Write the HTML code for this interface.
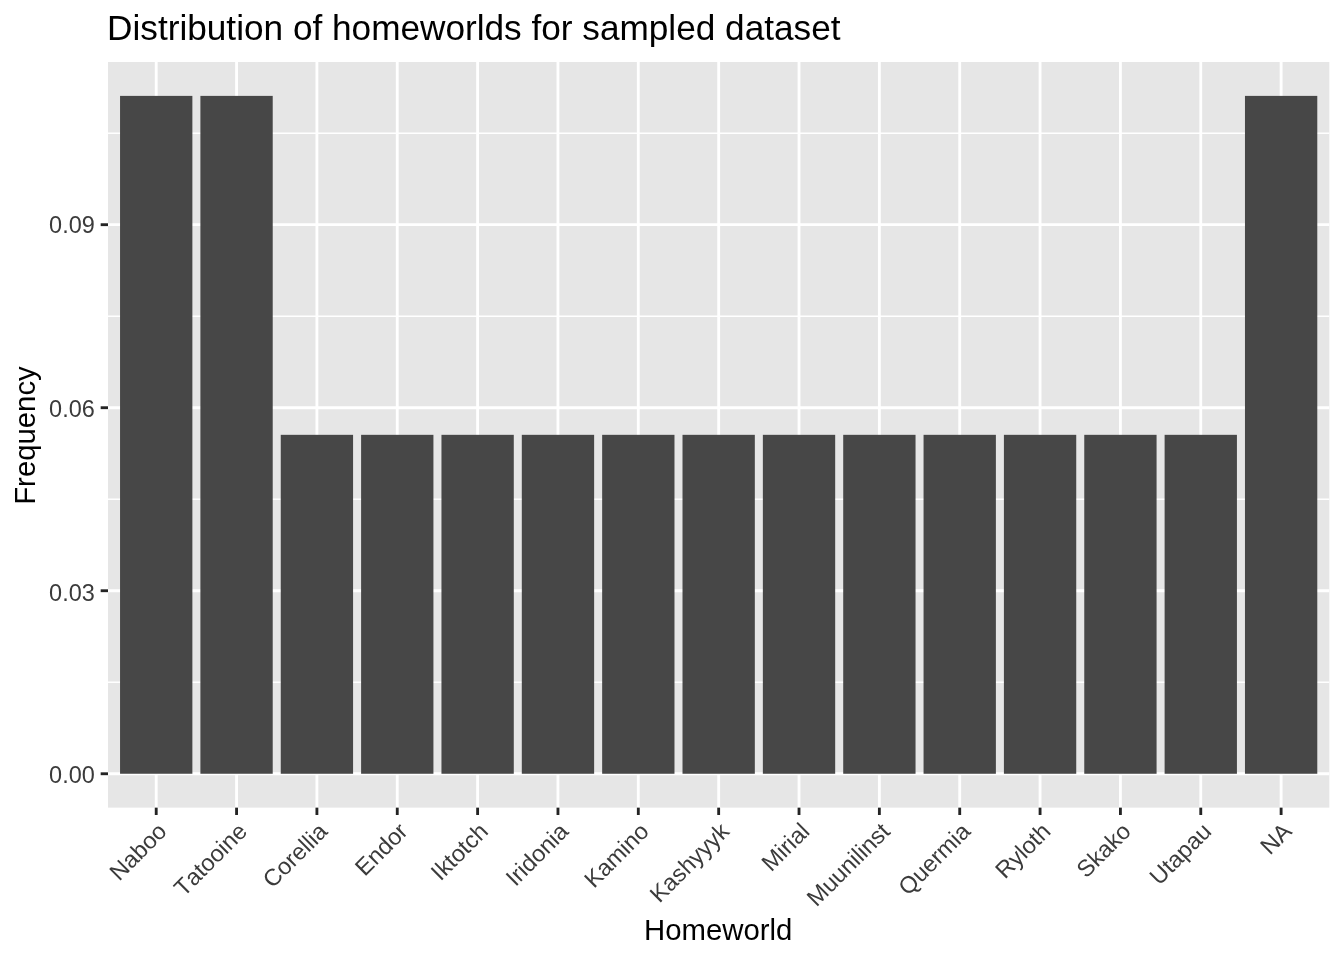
<!DOCTYPE html>
<html lang="en"><head><meta charset="utf-8"><title>Distribution of homeworlds for sampled dataset</title>
<style>html,body{margin:0;padding:0;background:#fff;overflow:hidden}body{width:1344px;height:960px}</style></head>
<body>
<svg width="1344" height="960" viewBox="0 0 1344 960" style="display:block;font-kerning:none;font-family:'Liberation Sans',Arial,Helvetica,sans-serif">
<rect x="0" y="0" width="1344" height="960" fill="#fff"/>
<rect x="108.00" y="62.00" width="1221.33" height="745.65" fill="#E6E6E6"/>
<g stroke="#fff" stroke-width="1.42" fill="none">
<line x1="108.00" x2="1329.33" y1="682.25" y2="682.25"/>
<line x1="108.00" x2="1329.33" y1="499.22" y2="499.22"/>
<line x1="108.00" x2="1329.33" y1="316.20" y2="316.20"/>
<line x1="108.00" x2="1329.33" y1="133.18" y2="133.18"/>
</g>
<g stroke="#fff" stroke-width="2.85" fill="none">
<line x1="108.00" x2="1329.33" y1="773.76" y2="773.76"/>
<line x1="108.00" x2="1329.33" y1="590.73" y2="590.73"/>
<line x1="108.00" x2="1329.33" y1="407.71" y2="407.71"/>
<line x1="108.00" x2="1329.33" y1="224.69" y2="224.69"/>
<line x1="156.21" x2="156.21" y1="62.00" y2="807.65"/>
<line x1="236.56" x2="236.56" y1="62.00" y2="807.65"/>
<line x1="316.91" x2="316.91" y1="62.00" y2="807.65"/>
<line x1="397.26" x2="397.26" y1="62.00" y2="807.65"/>
<line x1="477.61" x2="477.61" y1="62.00" y2="807.65"/>
<line x1="557.96" x2="557.96" y1="62.00" y2="807.65"/>
<line x1="638.31" x2="638.31" y1="62.00" y2="807.65"/>
<line x1="718.66" x2="718.66" y1="62.00" y2="807.65"/>
<line x1="799.02" x2="799.02" y1="62.00" y2="807.65"/>
<line x1="879.37" x2="879.37" y1="62.00" y2="807.65"/>
<line x1="959.72" x2="959.72" y1="62.00" y2="807.65"/>
<line x1="1040.07" x2="1040.07" y1="62.00" y2="807.65"/>
<line x1="1120.42" x2="1120.42" y1="62.00" y2="807.65"/>
<line x1="1200.77" x2="1200.77" y1="62.00" y2="807.65"/>
<line x1="1281.12" x2="1281.12" y1="62.00" y2="807.65"/>
</g>
<g fill="#474747">
<rect x="120.05" y="95.89" width="72.32" height="677.86"/>
<rect x="200.40" y="95.89" width="72.32" height="677.86"/>
<rect x="280.75" y="434.83" width="72.32" height="338.93"/>
<rect x="361.10" y="434.83" width="72.32" height="338.93"/>
<rect x="441.46" y="434.83" width="72.32" height="338.93"/>
<rect x="521.81" y="434.83" width="72.32" height="338.93"/>
<rect x="602.16" y="434.83" width="72.32" height="338.93"/>
<rect x="682.51" y="434.83" width="72.32" height="338.93"/>
<rect x="762.86" y="434.83" width="72.32" height="338.93"/>
<rect x="843.21" y="434.83" width="72.32" height="338.93"/>
<rect x="923.56" y="434.83" width="72.32" height="338.93"/>
<rect x="1003.91" y="434.83" width="72.32" height="338.93"/>
<rect x="1084.26" y="434.83" width="72.32" height="338.93"/>
<rect x="1164.61" y="434.83" width="72.32" height="338.93"/>
<rect x="1244.96" y="95.89" width="72.32" height="677.86"/>
</g>
<g stroke="#242424" stroke-width="2.85" fill="none">
<line x1="100.67" x2="108.00" y1="773.76" y2="773.76"/>
<line x1="100.67" x2="108.00" y1="590.73" y2="590.73"/>
<line x1="100.67" x2="108.00" y1="407.71" y2="407.71"/>
<line x1="100.67" x2="108.00" y1="224.69" y2="224.69"/>
<line x1="156.21" x2="156.21" y1="807.65" y2="814.98"/>
<line x1="236.56" x2="236.56" y1="807.65" y2="814.98"/>
<line x1="316.91" x2="316.91" y1="807.65" y2="814.98"/>
<line x1="397.26" x2="397.26" y1="807.65" y2="814.98"/>
<line x1="477.61" x2="477.61" y1="807.65" y2="814.98"/>
<line x1="557.96" x2="557.96" y1="807.65" y2="814.98"/>
<line x1="638.31" x2="638.31" y1="807.65" y2="814.98"/>
<line x1="718.66" x2="718.66" y1="807.65" y2="814.98"/>
<line x1="799.02" x2="799.02" y1="807.65" y2="814.98"/>
<line x1="879.37" x2="879.37" y1="807.65" y2="814.98"/>
<line x1="959.72" x2="959.72" y1="807.65" y2="814.98"/>
<line x1="1040.07" x2="1040.07" y1="807.65" y2="814.98"/>
<line x1="1120.42" x2="1120.42" y1="807.65" y2="814.98"/>
<line x1="1200.77" x2="1200.77" y1="807.65" y2="814.98"/>
<line x1="1281.12" x2="1281.12" y1="807.65" y2="814.98"/>
</g>
<g fill="#3B3B3B" font-size="23.47px" text-anchor="end">
<text x="94.8" y="782.85">0.00</text>
<text x="94.8" y="600.60">0.03</text>
<text x="94.8" y="417.45">0.06</text>
<text x="94.8" y="233.35">0.09</text>
<text transform="translate(168.11,832.80) rotate(-45)" x="0" y="0">Naboo</text>
<text transform="translate(248.46,832.80) rotate(-45)" x="0" y="0">Tatooine</text>
<text transform="translate(328.81,832.80) rotate(-45)" x="0" y="0">Corellia</text>
<text transform="translate(409.16,832.80) rotate(-45)" x="0" y="0">Endor</text>
<text transform="translate(489.51,832.80) rotate(-45)" x="0" y="0">Iktotch</text>
<text transform="translate(569.86,832.80) rotate(-45)" x="0" y="0">Iridonia</text>
<text transform="translate(650.21,832.80) rotate(-45)" x="0" y="0">Kamino</text>
<text transform="translate(730.56,832.80) rotate(-45)" x="0" y="0">Kashyyyk</text>
<text transform="translate(810.92,832.80) rotate(-45)" x="0" y="0">Mirial</text>
<text transform="translate(891.27,832.80) rotate(-45)" x="0" y="0">Muunilinst</text>
<text transform="translate(971.62,832.80) rotate(-45)" x="0" y="0">Quermia</text>
<text transform="translate(1051.97,832.80) rotate(-45)" x="0" y="0">Ryloth</text>
<text transform="translate(1132.32,832.80) rotate(-45)" x="0" y="0">Skako</text>
<text transform="translate(1212.67,832.80) rotate(-45)" x="0" y="0">Utapau</text>
<text transform="translate(1293.02,832.80) rotate(-45)" x="0" y="0">NA</text>
</g>
<text x="107.1" y="39.8" font-size="35.2px" fill="#000">Distribution of homeworlds for sampled dataset</text>
<text x="718.16" y="940.1" font-size="29.33px" fill="#000" text-anchor="middle">Homeworld</text>
<text transform="translate(35.2,435.52) rotate(-90)" font-size="29.33px" fill="#000" text-anchor="middle">Frequency</text>
</svg>
</body></html>
